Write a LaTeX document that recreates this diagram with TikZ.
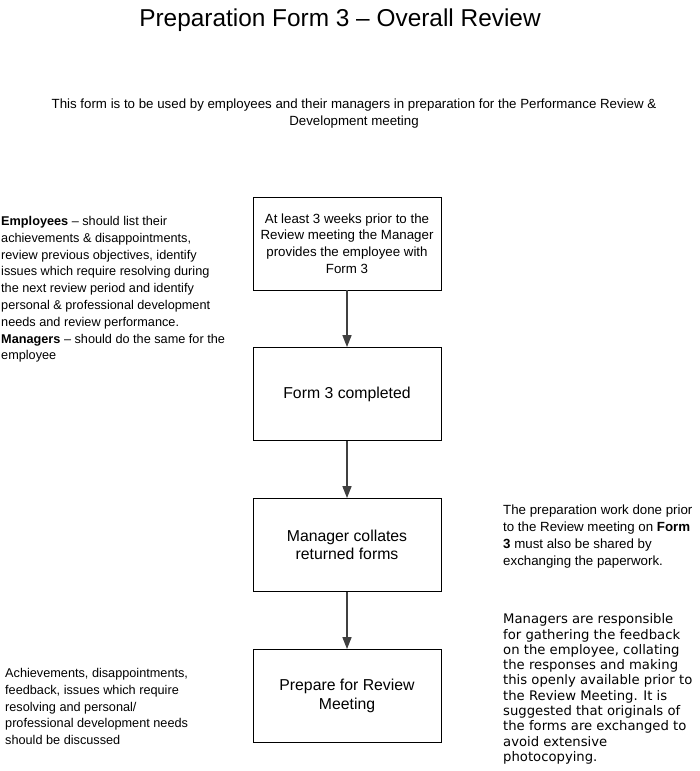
\documentclass[tikz,border=0pt]{standalone}
\usepackage{fontspec}
\setmainfont{Liberation Sans}
\newfontfamily\verd{DejaVu Sans}
\usetikzlibrary{arrows.meta}
\begin{document}
\begin{tikzpicture}[x=1pt,y=-1pt,
  stepbox/.style={draw=black,line width=0.8pt,minimum width=188pt,minimum height=93pt,inner sep=2pt,align=center},
  flow/.style={draw=black!75,line width=1.4pt,-{Triangle[length=12pt,width=9pt]}},
  note/.style={inner sep=0pt,align=left,anchor=north west},
  small/.style={font=\fontsize{13.3}{16.8}\selectfont},
  leftsmall/.style={font=\fontsize{12.7}{16.8}\selectfont},
  mid/.style={font=\fontsize{15.8}{18.5}\selectfont}]
\useasboundingbox (0,0) rectangle (699,771);
\node[inner sep=0pt,anchor=base,font=\fontsize{24.4}{28}\selectfont] (title) at (340,26) {Preparation Form 3 – Overall Review};
\node[inner sep=0pt,align=center,anchor=north,small] (intro) at (354,98.5) {This form is to be used by employees and their managers in preparation for the Performance Review \&\\Development meeting};
\node[stepbox,small] (b1) at (347,243.5) {At least 3 weeks prior to the\\Review meeting the Manager\\provides the employee with\\Form 3};
\node[stepbox,mid] (b2) at (347,394) {Form 3 completed};
\node[stepbox,mid] (b3) at (347,545) {Manager collates\\returned forms};
\node[stepbox,mid] (b4) at (347,696) {Prepare for Review\\Meeting};
\draw[flow] (b1.south) -- (b2.north);
\draw[flow] (b2.south) -- (b3.north);
\draw[flow] (b3.south) -- (b4.north);
\node[note,leftsmall] (emp) at (1,216) {\textbf{Employees} – should list their\\achievements \& disappointments,\\review previous objectives, identify\\issues which require resolving during\\the next review period and identify\\personal \& professional development\\needs and review performance.\\\textbf{Managers} – should do the same for the\\employee};
\node[note,small] (prep) at (503,505) {The preparation work done prior\\to the Review meeting on \textbf{Form}\\\textbf{3} must also be shared by\\exchanging the paperwork.};
\node[note,font=\verd\fontsize{13.2}{15.3}\selectfont] (mgr) at (503,613.5) {Managers are responsible\\for gathering the feedback\\on the employee, collating\\the responses and making\\this openly available prior to\\the Review Meeting. It is\\suggested that originals of\\the forms are exchanged to\\avoid extensive\\photocopying.};
\node[note,leftsmall] (ach) at (5,668) {Achievements, disappointments,\\feedback, issues which require\\resolving and personal/\\professional development needs\\should be discussed};
\end{tikzpicture}
\end{document}
